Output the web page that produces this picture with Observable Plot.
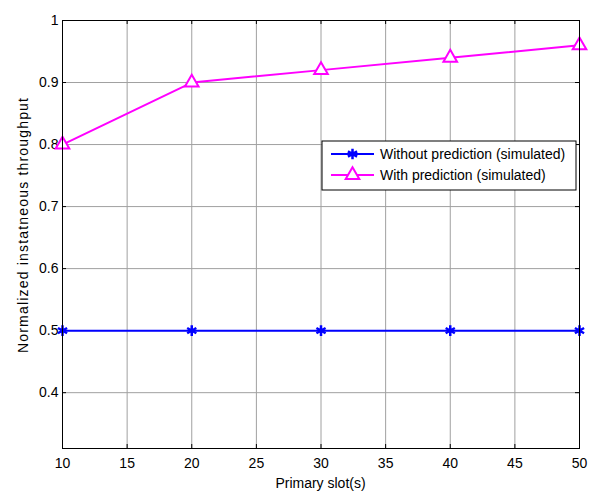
<!DOCTYPE html>
<html>
<head>
<meta charset="utf-8">
<script src="https://cdn.jsdelivr.net/npm/d3@7"></script>
<script src="https://cdn.jsdelivr.net/npm/@observablehq/plot@0.6"></script>
<style>
  html, body { margin: 0; padding: 0; background: white; }
</style>
</head>
<body>
<div id="chart"></div>
<script>
const slots = [10, 20, 30, 40, 50];
const withoutPrediction = [0.5, 0.5, 0.5, 0.5, 0.5];
const withPrediction = [0.8, 0.9, 0.92, 0.94, 0.96];
const xTicks = [10, 15, 20, 25, 30, 35, 40, 45, 50];
const yTicks = [0.4, 0.5, 0.6, 0.7, 0.8, 0.9, 1];
const seriesNames = ["Without prediction (simulated)", "With prediction (simulated)"];
const xLabel = "Primary slot(s)";
const yLabel = "Normalized instatneous throughput";

const dataWithout = slots.map((x, i) => ({x, y: withoutPrediction[i]}));
const dataWith = slots.map((x, i) => ({x, y: withPrediction[i]}));

const W = 598, H = 493;
const mL = 62, mR = 19, mT = 20, mB = 45;
const pw = W - mL - mR, ph = H - mT - mB;
const gridColor = "#a0a0a0";

const chart = Plot.plot({
  width: W, height: H,
  marginLeft: mL, marginRight: mR, marginTop: mT, marginBottom: mB,
  style: {fontFamily: "'Liberation Sans', Arial, sans-serif", fontSize: "14px", background: "white", color: "black"},
  x: {domain: [10, 50]},
  y: {domain: [0.31, 1]},
  marks: [
    Plot.gridX(xTicks, {stroke: gridColor, strokeOpacity: 1}),
    Plot.gridY(yTicks, {stroke: gridColor, strokeOpacity: 1}),
    Plot.tickX(xTicks, {x: d => d, insetTop: ph - 4, stroke: "black"}),
    Plot.tickX(xTicks, {x: d => d, insetBottom: ph - 4, stroke: "black"}),
    Plot.tickY(yTicks, {y: d => d, insetRight: pw - 4, stroke: "black"}),
    Plot.tickY(yTicks, {y: d => d, insetLeft: pw - 4, stroke: "black"}),
    Plot.axisX(xTicks, {tickSize: 0, tickPadding: 10, label: null, fontSize: 14}),
    Plot.axisY(yTicks, {tickSize: 0, tickPadding: 4, label: null, fontSize: 14, tickFormat: d => String(d)}),
    Plot.line(dataWithout, {x: "x", y: "y", stroke: "#0000ff", strokeWidth: 2}),
    Plot.dot(dataWithout, {x: "x", y: "y", symbol: "asterisk", r: 5, stroke: "#0000ff", strokeWidth: 2.5}),
    Plot.line(dataWith, {x: "x", y: "y", stroke: "#ff00ff", strokeWidth: 2}),
    Plot.dot(dataWith, {x: "x", y: "y", symbol: "triangle2", r: 6.5, stroke: "#ff00ff", fill: "white", strokeWidth: 2}),
    Plot.frame({stroke: "black"})
  ]
});

document.getElementById("chart").appendChild(chart);

const svg = d3.select(chart);
// axis labels
svg.append("text")
  .attr("x", mL + pw / 2).attr("y", 488)
  .attr("text-anchor", "middle")
  .attr("font-size", 14)
  .attr("fill", "black")
  .text(xLabel);
svg.append("text")
  .attr("transform", `translate(28,${225.5}) rotate(-90)`)
  .attr("text-anchor", "middle")
  .attr("font-size", 14)
  .attr("fill", "black")
  .attr("textLength", 255)
  .attr("lengthAdjust", "spacing")
  .text(yLabel);

// legend
const lg = svg.append("g");
lg.append("rect").attr("x", 322).attr("y", 141).attr("width", 254).attr("height", 49)
  .attr("fill", "white").attr("stroke", "black");
const legendItems = [
  {name: seriesNames[0], color: "#0000ff", sym: d3.symbolAsterisk, size: Math.PI * 25, fill: "none", sw: 2.5, y: 154},
  {name: seriesNames[1], color: "#ff00ff", sym: d3.symbolTriangle2, size: Math.PI * 6.5 * 6.5, fill: "white", sw: 2, y: 175}
];
for (const it of legendItems) {
  lg.append("line").attr("x1", 331).attr("x2", 374).attr("y1", it.y).attr("y2", it.y)
    .attr("stroke", it.color).attr("stroke-width", 2);
  lg.append("path").attr("d", d3.symbol(it.sym, it.size)())
    .attr("transform", `translate(352.5,${it.y})`)
    .attr("stroke", it.color).attr("stroke-width", it.sw).attr("fill", it.fill);
  lg.append("text").attr("x", 380).attr("y", it.y).attr("dy", "0.35em")
    .attr("text-anchor", "start")
    .attr("font-size", 14).attr("fill", "black").text(it.name);
}
</script>
</body>
</html>
